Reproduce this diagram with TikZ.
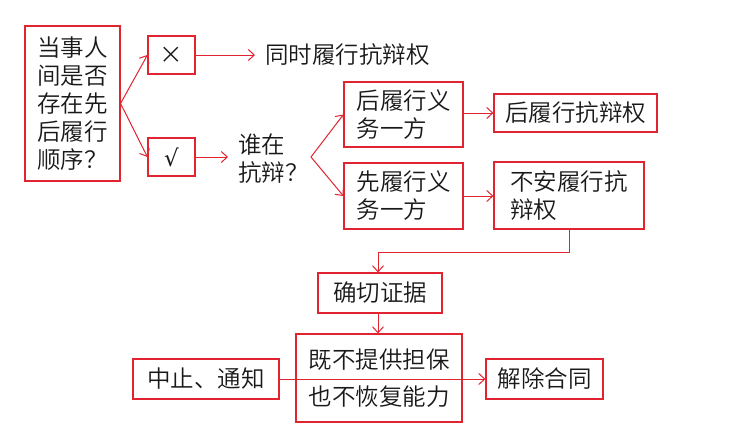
\documentclass[tikz,border=0pt]{standalone}
\usepackage{fontspec}
\setmainfont{Noto Sans CJK SC}[UprightFont=* DemiLight]
\newfontfamily\symfont{DejaVu Sans}
\usetikzlibrary{arrows.meta}
\definecolor{lred}{RGB}{226,36,48}
\definecolor{ink}{RGB}{25,25,25}
\tikzset{
  box/.style={draw=lred, line width=1.1pt, rectangle, inner sep=0pt, text=ink,
    font=\fontsize{23.5}{28}\selectfont, align=left},
  plain/.style={inner sep=0pt, text=ink, font=\fontsize{23.5}{28}\selectfont, align=left},
  arr/.style={draw=lred, line width=1pt, -{Straight Barb[length=6pt,width=11pt]}},
  ln/.style={draw=lred, line width=1pt}
}
\begin{document}
\begin{tikzpicture}[x=1pt,y=-1pt]
\useasboundingbox[fill=white] (0,0) rectangle (732,432);
% nodes
\node[box, minimum width=95pt, minimum height=155pt] (b1) at (72.5,103.5) {当事人\\间是否\\存在先\\后履行\\顺序？};
\node[box, minimum width=47pt, minimum height=38pt] (bx) at (171.5,55) {×};
\node[box, minimum width=47pt, minimum height=38pt] (bv) at (171.5,157) {{\symfont\fontsize{23}{26}\selectfont √}};
\node[plain, anchor=west, inner xsep=10pt] (t1) at (255,55) {同时履行抗辩权};
\node[plain, anchor=west, inner xsep=10pt] (q) at (228,159) {谁在\\抗辩？};
\coordinate (fan2) at (311,157);
\node[box, minimum width=119pt, minimum height=65pt] (h1) at (403.5,114.5) {后履行义\\务一方};
\node[box, minimum width=119pt, minimum height=66pt] (h2) at (403.5,196) {先履行义\\务一方};
\node[box, minimum width=163pt, minimum height=38pt] (r1) at (575.5,113) {后履行抗辩权};
\node[box, minimum width=150pt, minimum height=67pt, text width=118pt] (r2) at (569,195.5) {不安履行抗\\辩权};
\node[box, minimum width=124pt, minimum height=40pt] (c) at (380,293) {确切证据};
\node[box, minimum width=166pt, minimum height=88pt, align=center] (m) at (379,378) {既不提供担保\\[9pt]也不恢复能力};
\node[box, minimum width=146pt, minimum height=40pt] (s) at (206,379) {中止、通知};
\node[box, minimum width=117pt, minimum height=40pt] (j) at (544.5,379) {解除合同};
\coordinate (k1) at (569,252);
\coordinate (k2) at (378,252);
% connectors
\draw[arr] (b1.east) -- (bx.west);
\draw[arr] (b1.east) -- (bv.west);
\draw[arr] (bx.east) -- (t1.west);
\draw[arr] (bv.east) -- (bv.east -| q.west);
\draw[arr] (fan2) -- (h1.west);
\draw[arr] (fan2) -- (h2.west);
\draw[arr] (h1.east |- r1.west) -- (r1.west);
\draw[arr] (h2.east) -- (h2.east -| r2.west);
\draw[ln] (r2.south -| k1) -- (k1) -- (k2);
\draw[arr] (k2) -- (k2 |- c.north);
\draw[arr] (k2 |- c.south) -- (k2 |- m.north);
\draw[arr] (s.east) -- (j.west);
\end{tikzpicture}
\end{document}
